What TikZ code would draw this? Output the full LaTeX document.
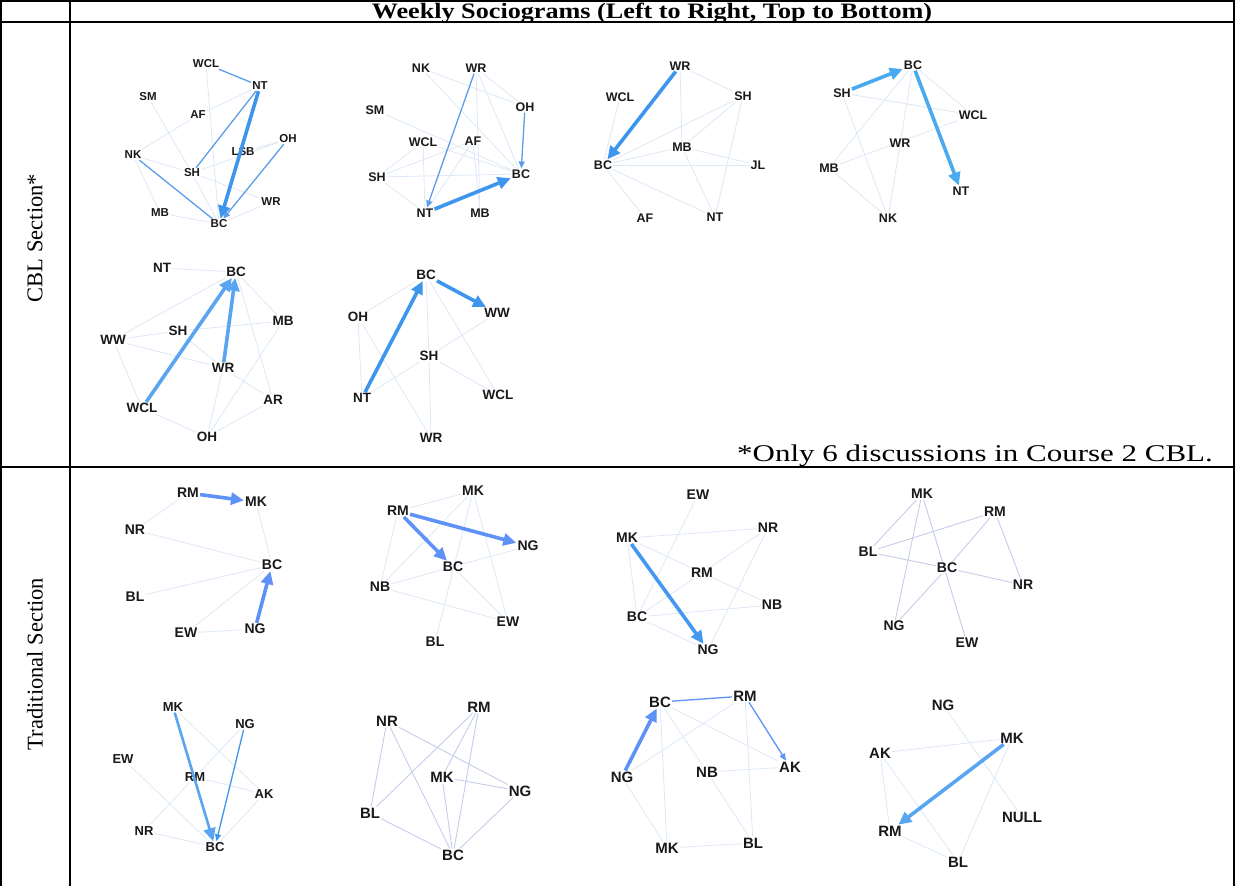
\documentclass[tikz,border=0pt]{standalone}
\usepackage{fontspec}
\setmainfont{Liberation Serif}
\newfontfamily\labfont{Liberation Sans}
\usetikzlibrary{arrows.meta}
\pgfdeclarelayer{bg}
\pgfsetlayers{bg,main}
\definecolor{liteE}{HTML}{DDE8F6}
\definecolor{lavE}{HTML}{C6CCEA}
\definecolor{medE}{HTML}{5C9CE8}
\definecolor{thkC}{HTML}{3D95EE}
\definecolor{thkD}{HTML}{4AAAF0}
\definecolor{thkT}{HTML}{5E92F6}
\tikzset{
  lite/.style={draw=liteE, line width=0.8pt},
  lav/.style={draw=lavE, line width=0.9pt},
  medline/.style={draw=medE, line width=1.3pt},
  medarrow/.style={draw=medE, line width=1.3pt, -{Triangle[length=7pt,width=6pt]}},
  thk/.style={line width=3.6pt, -{Triangle[length=13pt,width=12pt]}},
  rule/.style={line width=1.4pt, black},
  gfont/.style={font=\labfont\bfseries\fontsize{#1}{#1}\selectfont, inner sep=1pt, text=black!90}
}
\begin{document}
\begin{tikzpicture}[x=1pt,y=-1pt]
\useasboundingbox (0,0) rectangle (1236,886);
% table
\draw[rule] (1,886) -- (1,1) -- (1234,1) -- (1234,886);
\draw[rule] (70,1) -- (70,886);
\draw[rule] (1,22) -- (1234,22);
\draw[rule] (1,467) -- (1234,467);
\node[anchor=base, font=\bfseries\fontsize{22}{23}\selectfont, inner sep=0pt] (hdr) at (652,18.5) {\scalebox{1.19}[1]{Weekly Sociograms (Left to Right, Top to Bottom)}};
\node[rotate=90, font=\fontsize{22.5}{24}\selectfont, inner sep=0pt] (cbl) at (35,238) {CBL Section*};
\node[rotate=90, font=\fontsize{22.5}{24}\selectfont, inner sep=0pt] (trd) at (35,664) {Traditional Section};
\node[anchor=base west, font=\fontsize{24}{25}\selectfont, inner sep=0pt] (note) at (737,461) {\scalebox{1.29}[1]{*Only 6 discussions in Course 2 CBL.}};

% ---------- CBL 1
\begin{scope}[every node/.style={gfont=11.5}]
\foreach \n/\x/\y/\t in {wcl/206/64/WCL, nt/260/86/NT, sm/148/97/SM, af/198/115/AF, nk/133/155/NK, lsb/243/152/LSB, oh/288/139/OH, sh/192/173/SH, wr/271/202/WR, mb/160/213/MB, bc/219/224/BC}
  \node (a-\n) at (\x,\y) {\t};
\end{scope}
\begin{pgfonlayer}{bg}
\foreach \u/\v in {af/nk, af/nt, sm/sh, wcl/bc, lsb/oh, sh/bc, sh/wr, mb/bc, wr/bc, nk/mb, oh/sh, nk/sh}
  \draw[lite] (a-\u) -- (a-\v);
\end{pgfonlayer}
\draw[medline] (a-wcl) -- (a-nt);
\draw[medline] (a-nt) -- (a-sh);
\draw[medline] (a-nk) -- (a-bc);
\draw[medarrow] (a-oh) -- (a-bc);
\draw[thk, draw=thkC, fill=thkC] (a-nt) -- (a-bc);

% ---------- CBL 2
\begin{scope}[every node/.style={gfont=12.5}]
\foreach \n/\x/\y/\t in {nk/421/68/NK, wr/476/68/WR, sm/375/110/SM, oh/525/107/OH, wcl/423/142/WCL, af/473/141/AF, sh/377/177/SH, bc/521/174/BC, nt/425/213/NT, mb/480/213/MB}
  \node (b-\n) at (\x,\y) {\t};
\end{scope}
\begin{pgfonlayer}{bg}
\foreach \u/\v in {nk/oh, nk/bc, sm/bc, wr/oh, wr/bc, sh/bc, sh/wcl, sh/nt, wcl/bc, af/nt, af/mb, wcl/nt, wr/mb, sh/af}
  \draw[lite] (b-\u) -- (b-\v);
\end{pgfonlayer}
\draw[medarrow] (b-wr) -- (b-nt);
\draw[medarrow] (b-oh) -- (b-bc);
\draw[thk, draw=thkC, fill=thkC] (b-nt) -- (b-bc);

% ---------- CBL 3
\begin{scope}[every node/.style={gfont=12.5}]
\foreach \n/\x/\y/\t in {wr/680/66/WR, wcl/620/97/WCL, sh/743/96/SH, mb/682/147/MB, jl/758/165/JL, bc/603/165/BC, af/645/218/AF, nt/715/217/NT}
  \node (c-\n) at (\x,\y) {\t};
\end{scope}
\begin{pgfonlayer}{bg}
\foreach \u/\v in {wr/sh, wr/mb, wcl/bc, sh/bc, sh/nt, mb/bc, mb/jl, mb/nt, bc/jl, bc/af, bc/nt, sh/mb}
  \draw[lite] (c-\u) -- (c-\v);
\end{pgfonlayer}
\draw[thk, draw=thkC, fill=thkC] (c-wr) -- (c-bc);

% ---------- CBL 4
\begin{scope}[every node/.style={gfont=12.5}]
\foreach \n/\x/\y/\t in {bc/913/65/BC, sh/842/93/SH, wcl/973/115/WCL, wr/900/143/WR, mb/829/168/MB, nt/961/191/NT, nk/888/218/NK}
  \node (d-\n) at (\x,\y) {\t};
\end{scope}
\begin{pgfonlayer}{bg}
\foreach \u/\v in {sh/wcl, sh/nk, bc/wcl, bc/mb, bc/nk, wcl/mb, mb/nk}
  \draw[lite] (d-\u) -- (d-\v);
\end{pgfonlayer}
\draw[thk, draw=thkD, fill=thkD] (d-sh) -- (d-bc);
\draw[thk, draw=thkD, fill=thkD] (d-bc) -- (d-nt);

% ---------- CBL 5
\begin{scope}[every node/.style={gfont=13.5}]
\foreach \n/\x/\y/\t in {nt/162/268/NT, bc/236/272/BC, mb/283/321/MB, ww/113/340/WW, sh/178/331/SH, wr/223/368/WR, ar/273/400/AR, wcl/142/408/WCL, oh/207/437/OH}
  \node (e-\n) at (\x,\y) {\t};
\end{scope}
\begin{pgfonlayer}{bg}
\foreach \u/\v in {nt/bc, bc/mb, bc/ar, ww/bc, ww/sh, ww/wr, ww/wcl, sh/mb, wr/ar, wr/oh, wcl/oh, oh/ar, oh/mb, sh/wr}
  \draw[lite] (e-\u) -- (e-\v);
\end{pgfonlayer}
\draw[thk, draw=thkC!85, fill=thkC!85] (e-wcl) -- (e-bc);
\draw[thk, draw=thkC!85, fill=thkC!85] (e-wr) -- (e-bc);

% ---------- CBL 6
\begin{scope}[every node/.style={gfont=13.5}]
\foreach \n/\x/\y/\t in {bc/426/275/BC, oh/358/317/OH, ww/497/313/WW, sh/429/356/SH, nt/362/398/NT, wcl/498/395/WCL, wr/431/438/WR}
  \node (f-\n) at (\x,\y) {\t};
\end{scope}
\begin{pgfonlayer}{bg}
\foreach \u/\v in {oh/bc, oh/wr, bc/sh, sh/wr, bc/wcl, nt/sh, sh/ww, sh/wcl, nt/oh}
  \draw[lite] (f-\u) -- (f-\v);
\end{pgfonlayer}
\draw[thk, draw=thkC, fill=thkC] (f-nt) -- (f-bc);
\draw[thk, draw=thkC, fill=thkC] (f-bc) -- (f-ww);

% ---------- Trad 1
\begin{scope}[every node/.style={gfont=14}]
\foreach \n/\x/\y/\t in {rm/188/493/RM, mk/256/502/MK, nr/135/530/NR, bc/272/565/BC, bl/135/597/BL, ew/186/633/EW, ng/255/629/NG}
  \node (g-\n) at (\x,\y) {\t};
\end{scope}
\begin{pgfonlayer}{bg}
\foreach \u/\v in {rm/nr, mk/bc, nr/bc, bl/bc, ew/bc, ew/ng}
  \draw[lite] (g-\u) -- (g-\v);
\end{pgfonlayer}
\draw[thk, draw=thkT, fill=thkT] (g-rm) -- (g-mk);
\draw[thk, draw=thkT, fill=thkT] (g-ng) -- (g-bc);

% ---------- Trad 2
\begin{scope}[every node/.style={gfont=14}]
\foreach \n/\x/\y/\t in {mk/473/491/MK, rm/398/511/RM, ng/528/546/NG, bc/453/567/BC, nb/380/587/NB, ew/508/622/EW, bl/435/642/BL}
  \node (h-\n) at (\x,\y) {\t};
\end{scope}
\begin{pgfonlayer}{bg}
\foreach \u/\v in {rm/mk, rm/nb, mk/nb, mk/bl, mk/ew, nb/ng, bc/ew, nb/ew}
  \draw[lite] (h-\u) -- (h-\v);
\end{pgfonlayer}
\draw[thk, draw=thkT, fill=thkT] (h-rm) -- (h-ng);
\draw[thk, draw=thkT, fill=thkT] (h-rm) -- (h-bc);

% ---------- Trad 3
\begin{scope}[every node/.style={gfont=14}]
\foreach \n/\x/\y/\t in {ew/698/495/EW, nr/768/528/NR, mk/627/538/MK, rm/702/573/RM, nb/772/605/NB, bc/637/617/BC, ng/708/650/NG}
  \node (i-\n) at (\x,\y) {\t};
\end{scope}
\begin{pgfonlayer}{bg}
\foreach \u/\v in {ew/bc, mk/nr, mk/nb, mk/bc, rm/nr, rm/bc, nr/ng, bc/nb, bc/ng}
  \draw[lite] (i-\u) -- (i-\v);
\end{pgfonlayer}
\draw[thk, draw=thkD!90!blue, fill=thkD!90!blue] (i-mk) -- (i-ng);

% ---------- Trad 4
\begin{scope}[every node/.style={gfont=14}]
\foreach \n/\x/\y/\t in {mk/922/494/MK, rm/995/512/RM, bl/868/552/BL, bc/947/568/BC, nr/1023/585/NR, ng/894/626/NG, ew/967/643/EW}
  \node (j-\n) at (\x,\y) {\t};
\end{scope}
\begin{pgfonlayer}{bg}
\foreach \u/\v in {mk/bl, mk/ng, mk/ew, rm/bl, rm/bc, rm/nr, bl/bc, bc/nr, bc/ng}
  \draw[lav] (j-\u) -- (j-\v);
\end{pgfonlayer}

% ---------- Trad 5
\begin{scope}[every node/.style={gfont=13}]
\foreach \n/\x/\y/\t in {mk/173/707/MK, ng/245/724/NG, ew/123/759/EW, rm/195/777/RM, ak/264/794/AK, nr/144/831/NR, bc/215/847/BC}
  \node (k-\n) at (\x,\y) {\t};
\end{scope}
\begin{pgfonlayer}{bg}
\foreach \u/\v in {mk/ak, ng/rm, rm/ak, ew/bc, nr/bc, rm/nr, ak/bc}
  \draw[lite] (k-\u) -- (k-\v);
\end{pgfonlayer}
\draw[line width=2.6pt, draw=thkC!85, fill=thkC!85, -{Triangle[length=13pt,width=12pt]}] (k-mk) -- (k-bc);
\draw[medarrow, draw=thkC] (k-ng) -- (k-bc);

% ---------- Trad 6
\begin{scope}[every node/.style={gfont=15}]
\foreach \n/\x/\y/\t in {nr/387/721/NR, rm/479/707/RM, mk/442/777/MK, ng/520/791/NG, bl/370/813/BL, bc/453/855/BC}
  \node (l-\n) at (\x,\y) {\t};
\end{scope}
\begin{pgfonlayer}{bg}
\foreach \u/\v in {nr/bl, nr/bc, nr/ng, rm/bl, rm/mk, rm/bc, mk/ng, mk/bc, ng/bc, bl/bc}
  \draw[lav] (l-\u) -- (l-\v);
\end{pgfonlayer}

% ---------- Trad 7
\begin{scope}[every node/.style={gfont=15}]
\foreach \n/\x/\y/\t in {bc/660/702/BC, rm/745/696/RM, ng/622/777/NG, nb/707/772/NB, ak/790/767/AK, mk/667/848/MK, bl/753/843/BL}
  \node (m-\n) at (\x,\y) {\t};
\end{scope}
\begin{pgfonlayer}{bg}
\foreach \u/\v in {bc/mk, bc/nb, bc/ak, rm/ng, rm/bl, nb/ak, nb/bl, ng/mk, mk/bl}
  \draw[lite] (m-\u) -- (m-\v);
\end{pgfonlayer}
\draw[medline, draw=thkT] (m-bc) -- (m-rm);
\draw[medarrow, draw=thkT] (m-rm) -- (m-ak);
\draw[thk, draw=thkT, fill=thkT] (m-ng) -- (m-bc);

% ---------- Trad 8
\begin{scope}[every node/.style={gfont=15}]
\foreach \n/\x/\y/\t in {ng/943/705/NG, mk/1012/738/MK, ak/880/753/AK, null/1022/817/NULL, rm/890/831/RM, bl/958/862/BL}
  \node (n-\n) at (\x,\y) {\t};
\end{scope}
\begin{pgfonlayer}{bg}
\foreach \u/\v in {ng/null, ak/mk, ak/rm, ak/bl, mk/bl, rm/bl}
  \draw[lite] (n-\u) -- (n-\v);
\end{pgfonlayer}
\draw[thk, draw=thkC!85, fill=thkC!85] (n-mk) -- (n-rm);
\end{tikzpicture}
\end{document}
